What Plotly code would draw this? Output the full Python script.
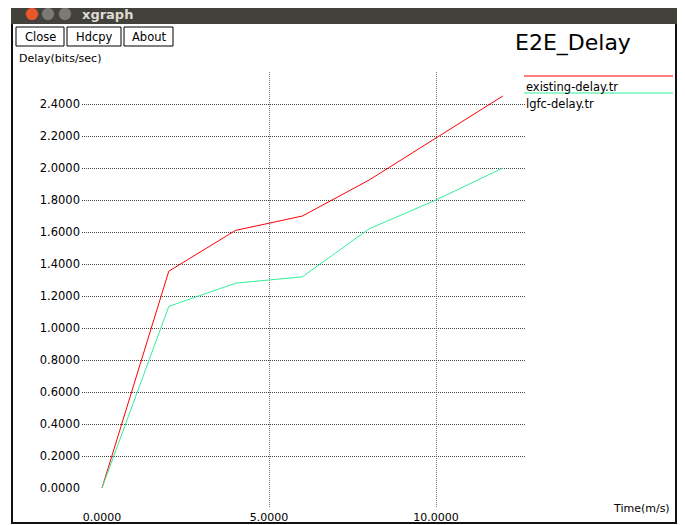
import plotly.graph_objects as go

# ---- data ----
time_vals = [0, 2, 4, 6, 8, 10, 12]
existing_delay = [0.0, 1.355, 1.61, 1.70, 1.925, 2.19, 2.45]
lgfc_delay = [0.0, 1.135, 1.28, 1.32, 1.62, 1.80, 2.00]
series_names = ["existing-delay.tr", "lgfc-delay.tr"]
y_ticks = [0.0, 0.2, 0.4, 0.6, 0.8, 1.0, 1.2, 1.4, 1.6, 1.8, 2.0, 2.2, 2.4]
x_ticks = [0, 5, 10]

OFF = 8  # page body margin
W_FIG, H_FIG = 685 - OFF, 525 - OFF
# plot area in page pixels
PL, PR, PT, PB = 82, 525, 72, 508
L, R_PX, T, B_PX = PL - OFF, PR - OFF, PT - OFF, PB - OFF
PW, PH = R_PX - L, B_PX - T

def X(px):
    return (px - OFF - L) / PW

def Y(py):
    return (B_PX - (py - OFF)) / PH

RED = "#ff0000"
GREEN = "#33ee99"
FONT = "DejaVu Sans"

fig = go.Figure()
fig.add_trace(go.Scatter(x=time_vals, y=existing_delay, mode="lines",
                         line=dict(color=RED, width=1), name=series_names[0]))
fig.add_trace(go.Scatter(x=time_vals, y=lgfc_delay, mode="lines",
                         line=dict(color=GREEN, width=1), name=series_names[1]))

shapes = []
annotations = []

# window chrome
shapes.append(dict(type="rect", xref="paper", yref="paper",
                   x0=X(11), x1=X(677), y0=Y(24), y1=Y(3),
                   fillcolor="#42413c", line=dict(width=0), layer="above"))
shapes.append(dict(type="line", xref="paper", yref="paper",
                   x0=X(12), x1=X(12), y0=Y(24), y1=Y(523),
                   line=dict(color="#111111", width=2)))
shapes.append(dict(type="line", xref="paper", yref="paper",
                   x0=X(676), x1=X(676), y0=Y(24), y1=Y(523),
                   line=dict(color="#111111", width=2)))
shapes.append(dict(type="line", xref="paper", yref="paper",
                   x0=X(11), x1=X(677), y0=Y(523), y1=Y(523),
                   line=dict(color="#111111", width=2)))
for cx, col in [(32, "#e5582b"), (48, "#7b7a75"), (65, "#7b7a75")]:
    shapes.append(dict(type="circle", xref="paper", yref="paper",
                       x0=X(cx - 6.5), x1=X(cx + 6.5), y0=Y(14 + 6.5), y1=Y(14 - 6.5),
                       fillcolor=col, line=dict(color="#333", width=0.5), layer="above"))
annotations.append(dict(xref="paper", yref="paper", x=X(80), y=Y(15),
                        xanchor="left", yanchor="middle", showarrow=False,
                        text="<b>xgraph</b>", font=dict(family=FONT, size=13, color="#dfdbd2")))

# buttons
for x0, x1, label in [(16, 64, "Close"), (67, 121, "Hdcpy"), (124, 173, "About")]:
    shapes.append(dict(type="rect", xref="paper", yref="paper",
                       x0=X(x0), x1=X(x1), y0=Y(46), y1=Y(27),
                       line=dict(color="#000", width=1), fillcolor="white"))
    annotations.append(dict(xref="paper", yref="paper", x=X((x0 + x1) / 2), y=Y(36.5),
                            xanchor="center", yanchor="middle", showarrow=False,
                            text=label, font=dict(family=FONT, size=11.5, color="#000")))

# title & axis labels
annotations.append(dict(xref="paper", yref="paper", x=X(573), y=Y(43),
                        xanchor="center", yanchor="middle", showarrow=False,
                        text="E2E_Delay", font=dict(family=FONT, size=22, color="#000")))
annotations.append(dict(xref="paper", yref="paper", x=X(17), y=Y(58),
                        xanchor="left", yanchor="middle", showarrow=False,
                        text="Delay(bits/sec)", font=dict(family=FONT, size=11, color="#000")))
annotations.append(dict(xref="paper", yref="paper", x=X(672), y=Y(508),
                        xanchor="right", yanchor="middle", showarrow=False,
                        text="Time(m/s)", font=dict(family=FONT, size=11, color="#000")))

# legend
for name, col, ly in [(series_names[0], RED, 76), (series_names[1], GREEN, 93)]:
    shapes.append(dict(type="line", xref="paper", yref="paper",
                       x0=X(524), x1=X(673), y0=Y(ly), y1=Y(ly),
                       line=dict(color=col, width=1.2)))
    annotations.append(dict(xref="paper", yref="paper", x=X(524), y=Y(ly + 11),
                            xanchor="left", yanchor="middle", showarrow=False,
                            text=name, font=dict(family=FONT, size=11.5, color="#000")))

# axis calibration (page pixels)
x0_px = 102.0
x_scale = 33.4
y0_px = 488.0
y_scale = 160.0

fig.update_layout(
    width=W_FIG, height=H_FIG,
    autosize=False,
    margin=dict(l=L, r=W_FIG - R_PX, t=T, b=H_FIG - B_PX, pad=0, autoexpand=False),
    paper_bgcolor="white", plot_bgcolor="white",
    showlegend=False,
    shapes=shapes, annotations=annotations,
    font=dict(family=FONT, size=12, color="#000"),
    xaxis=dict(range=[(PL - x0_px) / x_scale, (PR - x0_px) / x_scale],
               tickvals=x_ticks, tickformat=".4f", automargin=False,
               showgrid=True, gridcolor="#777", griddash="1px,1px", gridwidth=1.3,
               zeroline=True, zerolinecolor="rgba(0,0,0,0)",
               showline=False, ticks="", ticklabelstandoff=1,
               tickfont=dict(family=FONT, size=11, color="#000")),
    yaxis=dict(range=[(y0_px - PB) / y_scale, (y0_px - PT) / y_scale],
               tickvals=y_ticks, tickformat=".4f", automargin=False,
               showgrid=True, gridcolor="#444", griddash="1px,1px", gridwidth=1,
               zeroline=True, zerolinecolor="rgba(0,0,0,0)",
               showline=False, ticks="", ticklabelstandoff=1,
               tickfont=dict(family=FONT, size=11.5, color="#000")),
)

fig.write_html("out.html")
